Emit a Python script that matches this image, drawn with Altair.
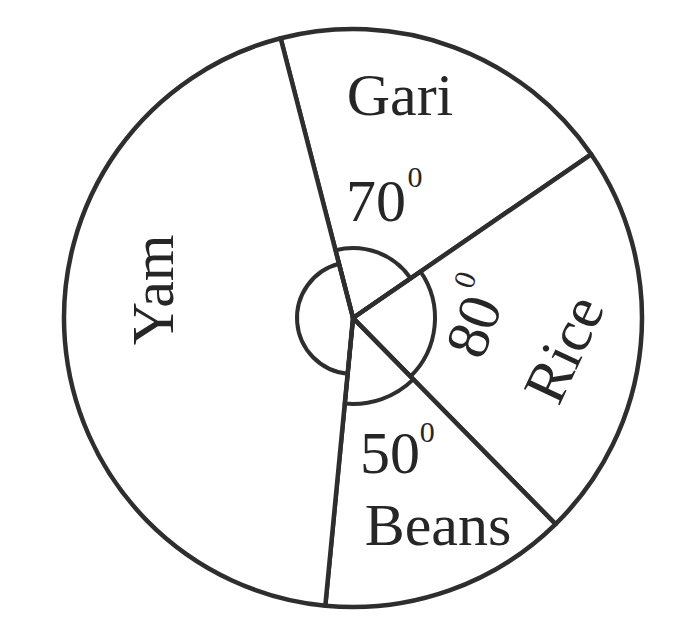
import math
import altair as alt
import pandas as pd

# ---- data ----
foods = ["Gari", "Rice", "Beans", "Yam"]
degrees = [70, 80, 50, 160]

# ---- layout / style ----
start_deg = -14.5
pie_radius = 289
loop_radius = [70, 82, 86, 56]          # small hand-drawn angle loop near the centre
line_col = "#2e2e2e"
text_col = "#262626"

pie = pd.DataFrame({"food": foods, "deg": degrees, "idx": list(range(len(foods))),
                    "loop_r": loop_radius})

# label placement (angle clockwise from top in degrees, radius in px, rotation, font size)
lab_text = ["Gari", "70", "0", "Rice", "80", "0", "Beans", "50", "0", "Yam"]
lab_angle = [12.0, 11.3, 23.9, 98.5, 94.2, 71.4, 157.9, 164.9, 147.2, 278.1]
lab_r = [226, 117, 153, 215, 123, 119, 226, 142, 137, 200]
lab_rot = [0, 0, 0, 295, 290, 290, 0, 0, 0, 270]
lab_size = [60, 60, 30, 60, 60, 30, 60, 60, 30, 60]
labels = pd.DataFrame({"t": lab_text, "a": lab_angle, "r": lab_r, "rot": lab_rot, "fs": lab_size})

start = math.radians(start_deg)
theta_scale = alt.Scale(domain=[0, 360], range=[start, start + 2 * math.pi])

base = alt.Chart(pie).transform_window(
    cum="sum(deg)", sort=[alt.SortField("idx")]
).transform_calculate(
    beg="datum.cum - datum.deg"
).encode(
    theta=alt.Theta("beg:Q", scale=theta_scale),
    theta2="cum:Q",
)

sectors = base.mark_arc(radius=pie_radius, fill="white", stroke=line_col,
                        strokeWidth=4.5, strokeJoin="round")

loop = base.mark_arc(filled=False, stroke=line_col, strokeWidth=4).encode(
    radius=alt.Radius("loop_r:Q", scale=None)
)

text = alt.Chart(labels).mark_text(font="Liberation Serif", color=text_col,
                                   align="center", baseline="middle").encode(
    theta=alt.Theta("a:Q", scale=alt.Scale(domain=[0, 360], range=[0, 2 * math.pi])),
    radius=alt.Radius("r:Q", scale=None),
    angle=alt.Angle("rot:Q", scale=None),
    size=alt.Size("fs:Q", scale=None),
    text="t:N",
)

chart = alt.layer(sectors, loop, text).resolve_scale(theta="independent").properties(
    width=600, height=590,
    padding={"left": 45, "top": 15, "right": 0, "bottom": 0},
    background="white",
).configure_view(stroke=None)

chart.save("out.html", embed_options={"renderer": "svg", "actions": False})
